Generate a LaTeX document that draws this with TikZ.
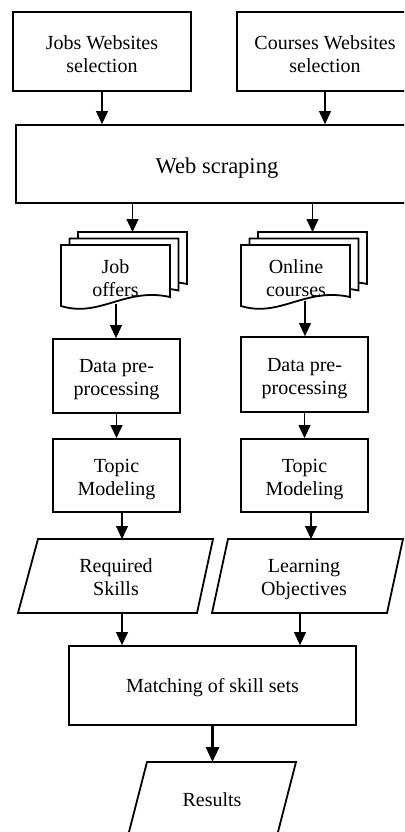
\documentclass[tikz,border=0pt]{standalone}
\usepackage{fontspec}
\setmainfont{Liberation Serif}
\usetikzlibrary{arrows.meta}
\tikzset{
 fbox/.style={draw, line width=1.8pt, fill=white, inner sep=0pt},
 lbl/.style={align=center, inner sep=0pt, font=\fontsize{20}{23}\selectfont},
 shp/.style={draw, line width=1.8pt, fill=white, line join=miter},
 arr/.style={line width=1.1pt, -{Triangle[width=12pt,length=13pt]}},
 thickarr/.style={line width=3pt, -{Triangle[width=13pt,length=15pt]}},
}
\newcommand{\docpg}[2]{\draw[shp] (#1,#2) -- ({#1+109},#2) -- ({#1+109},{#2+52}) .. controls ({#1+64},{#2+42}) and ({#1+39},{#2+73}) .. (#1,{#2+61}) -- cycle;}
\begin{document}
\begin{tikzpicture}[x=1pt,y=-1pt]
\useasboundingbox (0,0) rectangle (404,832);
\clip (0,0) rectangle (404,832);
\fill[white] (0,0) rectangle (404,832);
% top boxes
\node[fbox, minimum width=178pt, minimum height=79pt] (J) at (102,51.5) {};
\node[lbl] (Jt) at (102,54) {Jobs Websites\\selection};
\node[fbox, minimum width=176pt, minimum height=79pt] (C) at (325,51.5) {};
\node[lbl] (Ct) at (325,54) {Courses Websites\\selection};
\node[fbox, minimum width=402pt, minimum height=78pt] (W) at (217,164) {};
\node[lbl, font=\fontsize{22.5}{26}\selectfont] (Wt) at (217,168) {Web scraping};
% documents
\docpg{78}{232}
\docpg{69.5}{238.5}
\docpg{61}{245}
\docpg{258}{232}
\docpg{249.5}{238.5}
\docpg{241}{245}
\node[lbl] (docL) at (115.5,278) {Job\\offers};
\node[lbl] (docR) at (296,278) {Online\\courses};
\coordinate (docLtop) at (132.5,232);
\coordinate (docRtop) at (312.5,232);
\coordinate (docLbot) at (116,304);
\coordinate (docRbot) at (305,301);
% processing
\node[fbox, minimum width=127pt, minimum height=74pt] (dataL) at (116.5,376) {};
\node[lbl] (dataLt) at (116.5,380) {Data pre-\\processing};
\node[fbox, minimum width=127pt, minimum height=75pt] (dataR) at (304.5,374.5) {};
\node[lbl] (dataRt) at (304.5,378.5) {Data pre-\\processing};
\node[fbox, minimum width=127pt, minimum height=73pt] (topL) at (116.5,475.5) {};
\node[lbl] (topLt) at (116.5,480) {Topic\\Modeling};
\node[fbox, minimum width=127pt, minimum height=73pt] (topR) at (304.5,475.5) {};
\node[lbl] (topRt) at (304.5,480) {Topic\\Modeling};
% parallelograms
\draw[shp] (38,539) -- (213,539) -- (197,613) -- (18,613) -- cycle;
\draw[shp] (228,539) -- (403,539) -- (387,613) -- (212,613) -- cycle;
\node[lbl] (reqL) at (116,577) {Required\\Skills};
\node[lbl] (lrnR) at (304,580) {Learning\\Objectives};
\coordinate (reqtop) at (122,539);
\coordinate (lrntop) at (311,539);
\coordinate (reqbot) at (122,613);
\coordinate (lrnbot) at (300,613);
% matching
\node[fbox, minimum width=287pt, minimum height=79pt] (M) at (212.5,685.5) {};
\node[lbl] (Mt) at (212.5,688) {Matching of skill sets};
\draw[shp] (147,762) -- (296,762) -- (275.4,842) -- (126.4,842) -- cycle;
\node[lbl] (res) at (212,800) {Results};
\coordinate (restop) at (212.5,762);
% arrows
\draw[arr] (J.south) -- (J.south |- W.north);
\draw[arr] (C.south) -- (C.south |- W.north);
\draw[arr] (W.south -| docLtop) -- (docLtop);
\draw[arr] (W.south -| docRtop) -- (docRtop);
\draw[arr] (docLbot) -- (docLbot |- dataL.north);
\draw[arr] (docRbot) -- (docRbot |- dataR.north);
\draw[arr] (dataL.south) -- (topL.north);
\draw[arr] (dataR.south) -- (topR.north);
\draw[arr] (topL.south -| reqtop) -- (reqtop);
\draw[arr] (topR.south -| lrntop) -- (lrntop);
\draw[arr] (reqbot) -- (reqbot |- M.north);
\draw[arr] (lrnbot) -- (lrnbot |- M.north);
\draw[thickarr] (M.south) -- (M.south |- restop);
\end{tikzpicture}
\end{document}
